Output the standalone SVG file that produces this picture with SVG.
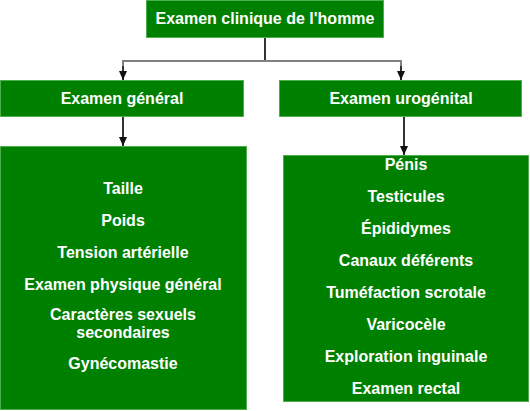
<svg xmlns="http://www.w3.org/2000/svg" width="530" height="411" viewBox="0 0 530 411">
<defs>
<style>
.box{fill:#008000;stroke:#4caf4c;stroke-width:1}
.t{font-family:"Liberation Sans",Arial,sans-serif;font-weight:bold;font-size:16px;fill:#fff;text-anchor:middle}
.c{stroke:#333;stroke-width:2;fill:none}
.h{stroke:#808080;stroke-width:2;fill:none}
</style>
<marker id="arr" markerWidth="10" markerHeight="10" refX="9" refY="5" orient="auto" markerUnits="userSpaceOnUse" viewBox="0 0 10 10">
<path d="M0,1 L9,5 L0,9 Z" fill="#111"/>
</marker>
</defs>
<g id="connectors">
<line class="c" x1="265" y1="38" x2="265" y2="61"/>
<polyline class="h" points="123,72 123,61 401,61 401,72"/>
<line class="c" x1="123" y1="66" x2="123" y2="80" marker-end="url(#arr)"/>
<line class="c" x1="401" y1="66" x2="401" y2="80" marker-end="url(#arr)"/>
<line class="c" x1="123" y1="117" x2="123" y2="146" marker-end="url(#arr)"/>
<line class="c" x1="404" y1="117" x2="404" y2="155" marker-end="url(#arr)"/>
</g>
<g id="root">
<rect class="box" x="146.5" y="0.5" width="237" height="37"/>
<text class="t" x="265" y="24">Examen clinique de l'homme</text>
</g>
<g id="general">
<rect class="box" x="0.5" y="80.5" width="243" height="36"/>
<text class="t" x="122" y="104">Examen général</text>
</g>
<g id="urogenital">
<rect class="box" x="279.5" y="80.5" width="242" height="36"/>
<text class="t" x="401" y="104">Examen urogénital</text>
</g>
<g id="general-list">
<rect class="box" x="0.5" y="146.5" width="246" height="263"/>
<text class="t" x="123" y="194">Taille</text>
<text class="t" x="123" y="226">Poids</text>
<text class="t" x="123" y="258">Tension artérielle</text>
<text class="t" x="123" y="290">Examen physique général</text>
<text class="t" x="123" y="320">Caractères sexuels</text>
<text class="t" x="123" y="338">secondaires</text>
<text class="t" x="123" y="369">Gynécomastie</text>
</g>
<g id="urogenital-list">
<rect class="box" x="283.5" y="155.5" width="245" height="246"/>
<text class="t" x="406" y="170">Pénis</text>
<text class="t" x="406" y="202">Testicules</text>
<text class="t" x="406" y="234">Épididymes</text>
<text class="t" x="406" y="266">Canaux déférents</text>
<text class="t" x="406" y="298">Tuméfaction scrotale</text>
<text class="t" x="406" y="330">Varicocèle</text>
<text class="t" x="406" y="362">Exploration inguinale</text>
<text class="t" x="406" y="394">Examen rectal</text>
</g>
</svg>
